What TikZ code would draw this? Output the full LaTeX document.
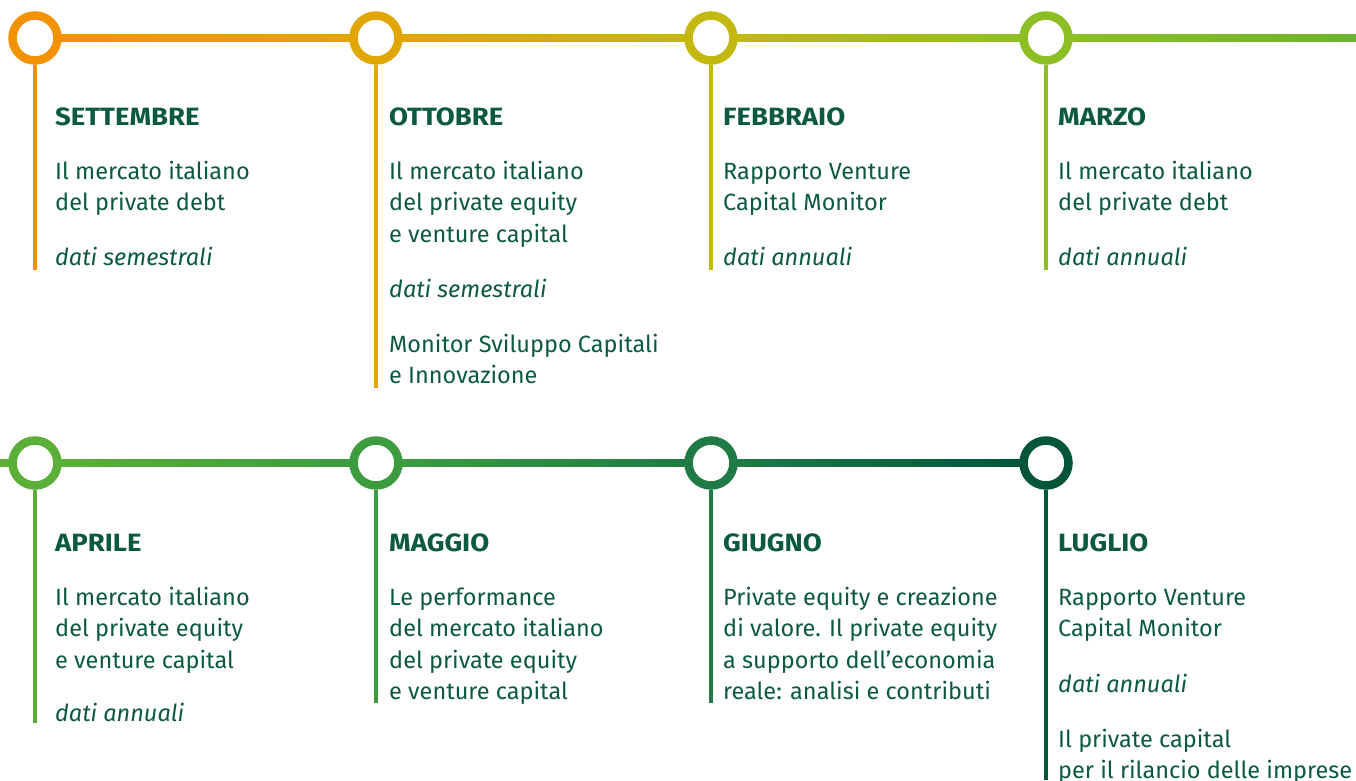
\documentclass[tikz,border=0pt]{standalone}
\usepackage{fontspec}
\setmainfont{Fira Sans}
\newfontfamily\titlefont[FakeStretch=1.1]{Fira Sans}
\usetikzlibrary{calc}
\definecolor{txt}{HTML}{0B5A3E}
\definecolor{cA}{HTML}{F39200}
\definecolor{cB}{HTML}{E2A600}
\definecolor{cC}{HTML}{C3B80F}
\definecolor{cD}{HTML}{8DBF24}
\definecolor{cE}{HTML}{6DB32F}
\definecolor{cF}{HTML}{5EB037}
\definecolor{cG}{HTML}{5BAE37}
\definecolor{cH}{HTML}{3D9B40}
\definecolor{cI}{HTML}{1F7A45}
\definecolor{cJ}{HTML}{00553A}
\newcommand{\tlines}[1]{\begin{tabular}[t]{@{}l@{}}#1\end{tabular}}
\begin{document}
\begin{tikzpicture}[x=1pt,y=-1pt,
  dot/.style={circle, draw=#1, line width=8.5pt, fill=white, minimum size=45pt, inner sep=0pt},
  stem/.style={line width=4.5pt, draw=#1},
  title/.style={anchor=base west, inner sep=0pt, text=txt, font=\titlefont\bfseries\fontsize{25}{31.5}\selectfont},
  body/.style={anchor=base west, inner sep=0pt, text=txt, font=\fontsize{23.5}{31.5}\selectfont},
  note/.style={body, font=\itshape\fontsize{23.5}{31.5}\selectfont}]
\useasboundingbox (0,0) rectangle (1356,780);

% top row circles
\node[dot=cA] (t1) at (35,38) {};
\node[dot=cB] (t2) at (376,38) {};
\node[dot=cC] (t3) at (711,38) {};
\node[dot=cD] (t4) at (1046,38) {};
\coordinate (tend) at (1356,38);
% bottom row circles
\node[dot=cG] (b1) at (35,463) {};
\node[dot=cH] (b2) at (376,463) {};
\node[dot=cI] (b3) at (711,463) {};
\node[dot=cJ] (b4) at (1046,463) {};
\coordinate (bstart) at (0,463);

% horizontal connectors (gradient)
\shade[left color=cA, right color=cB] ($(t1.east)+(-1,-3.5)$) rectangle ($(t2.west)+(1,3.5)$);
\shade[left color=cB, right color=cC] ($(t2.east)+(-1,-3.5)$) rectangle ($(t3.west)+(1,3.5)$);
\shade[left color=cC, right color=cD] ($(t3.east)+(-1,-3.5)$) rectangle ($(t4.west)+(1,3.5)$);
\shade[left color=cD, right color=cE] ($(t4.east)+(-1,-3.5)$) rectangle ($(tend)+(0,3.5)$);
\shade[left color=cF, right color=cG] ($(bstart)+(0,-3.5)$) rectangle ($(b1.west)+(1,3.5)$);
\shade[left color=cG, right color=cH] ($(b1.east)+(-1,-3.5)$) rectangle ($(b2.west)+(1,3.5)$);
\shade[left color=cH, right color=cI] ($(b2.east)+(-1,-3.5)$) rectangle ($(b3.west)+(1,3.5)$);
\shade[left color=cI, right color=cJ] ($(b3.east)+(-1,-3.5)$) rectangle ($(b4.west)+(1,3.5)$);

% stems
\coordinate (te1) at (35,270);
\coordinate (te2) at (376,388);
\coordinate (te3) at (711,270);
\coordinate (te4) at (1046,270);
\coordinate (be1) at (35,723);
\coordinate (be2) at (376,703);
\coordinate (be3) at (711,703);
\coordinate (be4) at (1046,780);
\draw[stem=cA] (t1.south) -- (te1);
\draw[stem=cB] (t2.south) -- (te2);
\draw[stem=cC] (t3.south) -- (te3);
\draw[stem=cD] (t4.south) -- (te4);
\draw[stem=cG] (b1.south) -- (be1);
\draw[stem=cH] (b2.south) -- (be2);
\draw[stem=cI] (b3.south) -- (be3);
\draw[stem=cJ] (b4.south) -- (be4);

% column 1 top
\node[title] (s1) at (55,125) {SETTEMBRE};
\node[body]  (s1b) at (55,179) {\tlines{Il mercato italiano\\del private debt}};
\node[note]  (s1n) at (55,265) {dati semestrali};
% column 2 top
\node[title] (s2) at (389,125) {OTTOBRE};
\node[body]  (s2b) at (389,179) {\tlines{Il mercato italiano\\del private equity\\e venture capital}};
\node[note]  (s2n) at (389,297) {dati semestrali};
\node[body]  (s2c) at (389,352) {\tlines{Monitor Sviluppo Capitali\\e Innovazione}};
% column 3 top
\node[title] (s3) at (723,125) {FEBBRAIO};
\node[body]  (s3b) at (723,179) {\tlines{Rapporto Venture\\Capital Monitor}};
\node[note]  (s3n) at (723,265) {dati annuali};
% column 4 top
\node[title] (s4) at (1058,125) {MARZO};
\node[body]  (s4b) at (1058,179) {\tlines{Il mercato italiano\\del private debt}};
\node[note]  (s4n) at (1058,265) {dati annuali};

% column 1 bottom
\node[title] (r1) at (55,551) {APRILE};
\node[body]  (r1b) at (55,605) {\tlines{Il mercato italiano\\del private equity\\e venture capital}};
\node[note]  (r1n) at (55,721) {dati annuali};
% column 2 bottom
\node[title] (r2) at (389,551) {MAGGIO};
\node[body]  (r2b) at (389,605) {\tlines{Le performance\\del mercato italiano\\del private equity\\e venture capital}};
% column 3 bottom
\node[title] (r3) at (723,551) {GIUGNO};
\node[body]  (r3b) at (723,605) {\tlines{Private equity e creazione\\di valore. Il private equity\\a supporto dell’economia\\reale: analisi e contributi}};
% column 4 bottom
\node[title] (r4) at (1058,551) {LUGLIO};
\node[body]  (r4b) at (1058,605) {\tlines{Rapporto Venture\\Capital Monitor}};
\node[note]  (r4n) at (1058,692) {dati annuali};
\node[body]  (r4c) at (1058,747) {\tlines{Il private capital\\per il rilancio delle imprese}};
\end{tikzpicture}
\end{document}
